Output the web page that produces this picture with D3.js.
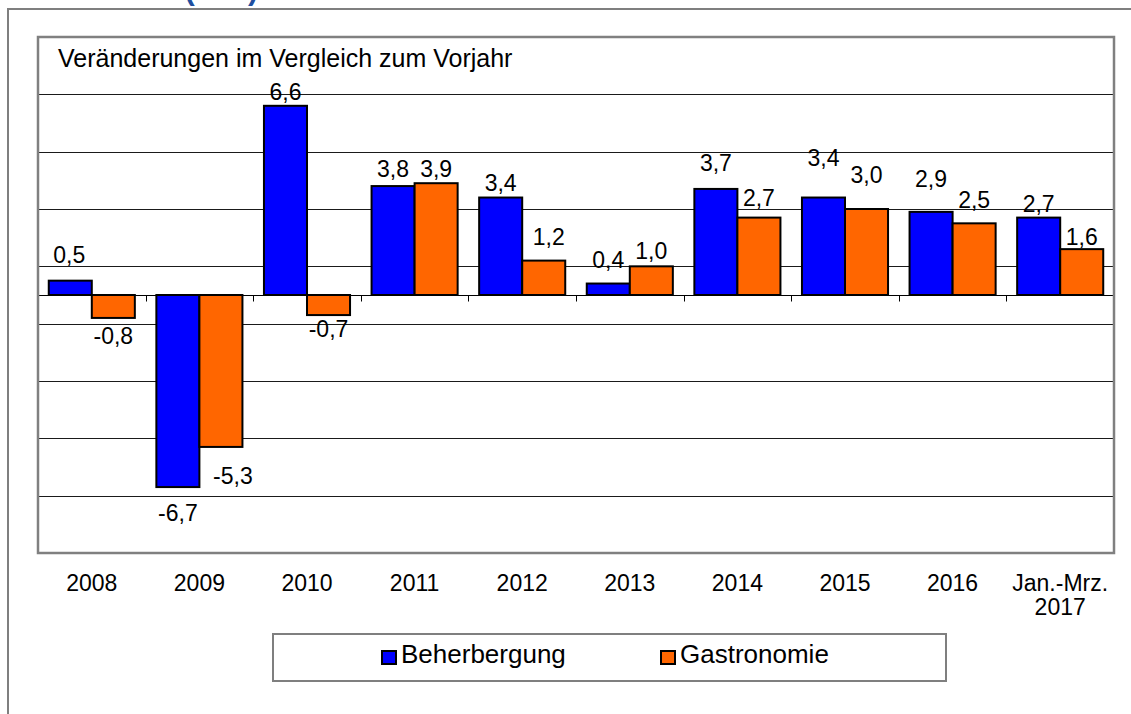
<!DOCTYPE html>
<html lang="de">
<head>
  <meta charset="UTF-8" />
  <title>Veränderungen im Vergleich zum Vorjahr</title>
  <style>
    body {
      margin: 0;
      background: #fff;
      overflow: hidden;
    }
    svg {
      display: block;
      font-family: "Liberation Sans", Arial, sans-serif;
    }
  </style>
</head>
<body>
  <svg id="chart" width="1131" height="714"></svg>

  <script src="https://d3js.org/d3.v7.min.js"></script>
  <script>
    const categories = ["2008", "2009", "2010", "2011", "2012", "2013", "2014", "2015", "2016", "Jan.-Mrz.|2017"];
    const seriesNames = ["Beherbergung", "Gastronomie"];
    const beherbergung = [0.5, -6.7, 6.6, 3.8, 3.4, 0.4, 3.7, 3.4, 2.9, 2.7];
    const gastronomie = [-0.8, -5.3, -0.7, 3.9, 1.2, 1.0, 2.7, 3.0, 2.5, 1.6];
    const yTicks = d3.range(-9, 10, 2);

    const labelDy = [
      [-18, 34, -6, -9, -7, -16, -18, -32, -25, -6],
      [26, 37, 22, -6, -16, -7, -12, -26, -15, -4]
    ];
    const labelDx = [
      [-1, 0, 0, 0, 0, 0, 0, 0, 0, 0],
      [0, 12, 0, 0, 5, 0, 0, 0, 0, 0]
    ];

    const colors = ["#0000ff", "#ff6600"];
    const values = [beherbergung, gastronomie];
    const fmt = v => v.toFixed(1).replace(".", ",");

    const svg = d3.select("#chart");

    const plot = { left: 38, right: 1114, top: 37, bottom: 553 };

    // outer frame (runs off the page right and bottom)
    svg.append("rect")
      .attr("x", 8).attr("y", 9)
      .attr("width", 1200).attr("height", 800)
      .attr("fill", "none")
      .attr("stroke", "#7f7f7f")
      .attr("stroke-width", 2);

    // title, cut off at the top like in the original
    svg.append("text")
      .attr("x", 258).attr("y", -0.5)
      .attr("text-anchor", "end")
      .attr("fill", "#1f4f9f")
      .style("font-weight", "bold")
      .style("font-size", "30px")
      .text("Umsatz (real)");

    const x = d3.scaleBand()
      .domain(categories)
      .range([plot.left, plot.right])
      .paddingInner(0.2)
      .paddingOuter(0.1);

    const xs = d3.scaleBand()
      .domain(seriesNames)
      .range([0, x.bandwidth()]);

    const y = d3.scaleLinear()
      .domain([-9, 9])
      .range([plot.bottom, plot.top]);

    // plot area background
    svg.append("rect")
      .attr("x", plot.left).attr("y", plot.top)
      .attr("width", plot.right - plot.left)
      .attr("height", plot.bottom - plot.top)
      .attr("fill", "#fff");

    // gridlines
    svg.append("g")
      .selectAll("line")
      .data(yTicks.filter(t => t > -9 && t < 9))
      .join("line")
      .attr("x1", plot.left).attr("x2", plot.right)
      .attr("y1", d => Math.round(y(d)) + 0.5)
      .attr("y2", d => Math.round(y(d)) + 0.5)
      .attr("stroke", "#1a1a1a")
      .attr("stroke-width", 1);

    // caption inside the plot
    svg.append("text")
      .attr("x", 58).attr("y", 67)
      .style("font-size", "25px")
      .attr("fill", "#000")
      .text("Veränderungen im Vergleich zum Vorjahr");

    // bars
    const groups = svg.append("g")
      .selectAll("g")
      .data(seriesNames)
      .join("g")
      .attr("fill", (d, i) => colors[i]);

    groups.selectAll("rect")
      .data((s, si) => categories.map((c, ci) => ({ c, ci, si, s, v: values[si][ci] })))
      .join("rect")
      .attr("x", d => x(d.c) + xs(d.s))
      .attr("y", d => y(Math.max(0, d.v)))
      .attr("width", xs.bandwidth())
      .attr("height", d => Math.abs(y(d.v) - y(0)))
      .attr("stroke", "#000")
      .attr("stroke-width", 2);

    // zero axis with category ticks
    const y0 = Math.round(y(0)) + 0.5;
    svg.append("line")
      .attr("x1", plot.left).attr("x2", plot.right)
      .attr("y1", y0).attr("y2", y0)
      .attr("stroke", "#000");

    const step = x.step();
    svg.append("g")
      .selectAll("line")
      .data(d3.range(1, categories.length))
      .join("line")
      .attr("x1", i => Math.round(plot.left + i * step) + 0.5)
      .attr("x2", i => Math.round(plot.left + i * step) + 0.5)
      .attr("y1", y0).attr("y2", y0 + 6)
      .attr("stroke", "#000");

    // value labels
    groups.selectAll("text")
      .data((s, si) => categories.map((c, ci) => ({ c, ci, si, s, v: values[si][ci] })))
      .join("text")
      .attr("x", d => x(d.c) + xs(d.s) + xs.bandwidth() / 2 + labelDx[d.si][d.ci])
      .attr("y", d => y(d.v) + labelDy[d.si][d.ci])
      .attr("text-anchor", "middle")
      .attr("fill", "#000")
      .style("font-size", "23px")
      .text(d => fmt(d.v));

    // plot frame
    svg.append("rect")
      .attr("x", plot.left).attr("y", plot.top)
      .attr("width", plot.right - plot.left)
      .attr("height", plot.bottom - plot.top)
      .attr("fill", "none")
      .attr("stroke", "#808080")
      .attr("stroke-width", 2.5);

    // category labels
    const xl = svg.append("g")
      .selectAll("text")
      .data(categories)
      .join("text")
      .attr("x", d => x(d) + x.bandwidth() / 2)
      .attr("y", 591)
      .attr("text-anchor", "middle")
      .style("font-size", "23px");

    xl.selectAll("tspan")
      .data(d => d.split("|"))
      .join("tspan")
      .attr("x", function () { return d3.select(this.parentNode).attr("x"); })
      .attr("dy", (d, i) => i === 0 ? 0 : 24)
      .text(d => d);

    // legend
    const legend = svg.append("g");
    legend.append("rect")
      .attr("x", 273).attr("y", 634)
      .attr("width", 673).attr("height", 47)
      .attr("fill", "#fff")
      .attr("stroke", "#7f7f7f")
      .attr("stroke-width", 2);

    const legendX = [382, 661];
    const items = legend.selectAll("g.item")
      .data(seriesNames)
      .join("g")
      .attr("class", "item")
      .attr("transform", (d, i) => `translate(${legendX[i]},651)`);

    items.append("rect")
      .attr("width", 14).attr("height", 13)
      .attr("fill", (d, i) => colors[i])
      .attr("stroke", "#000")
      .attr("stroke-width", 2);

    items.append("text")
      .attr("x", 19).attr("y", 12)
      .style("font-size", "26px")
      .text(d => d);
  </script>
</body>
</html>
